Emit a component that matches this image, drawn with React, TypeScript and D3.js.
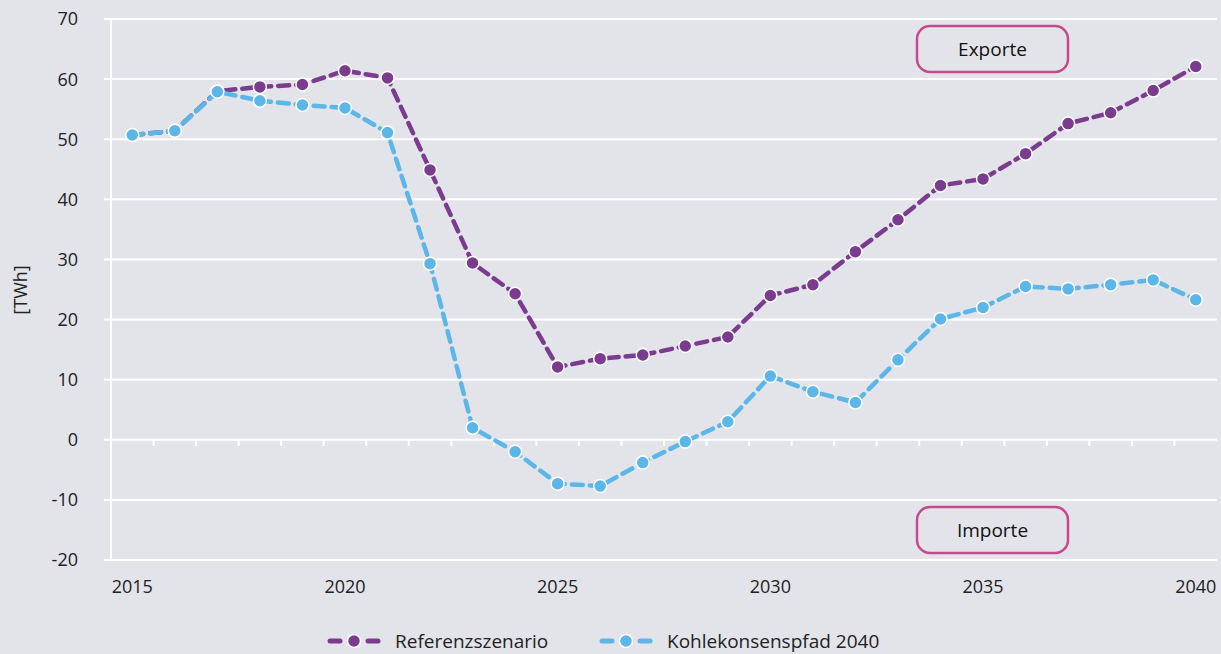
import React from "react";
import * as d3 from "d3";

const years = d3.range(2015, 2041);
const referenz = [50.7, 51.4, 58.0, 58.7, 59.1, 61.4, 60.2, 44.9, 29.4, 24.3, 12.1, 13.5, 14.1, 15.6, 17.1, 24.0, 25.8, 31.3, 36.6, 42.3, 43.4, 47.6, 52.6, 54.4, 58.1, 62.1];
const kohle = [50.7, 51.4, 57.9, 56.4, 55.7, 55.2, 51.1, 29.3, 2.0, -2.0, -7.3, -7.7, -3.8, -0.3, 3.0, 10.6, 8.0, 6.2, 13.3, 20.1, 22.0, 25.5, 25.1, 25.8, 26.6, 23.3];
const yTicks = [-20, -10, 0, 10, 20, 30, 40, 50, 60, 70];
const xLabels = [2015, 2020, 2025, 2030, 2035, 2040];
const seriesNames = ["Referenzszenario", "Kohlekonsenspfad 2040"];
const colors = ["#7b3c8f", "#5cb7e8"];

const W = 1221, H = 654;
const left = 111, right = 1217, top = 19, bottom = 560;
const font = "'Open Sans', 'DejaVu Sans', sans-serif";

export default function App() {
  const x = d3.scaleBand<number>().domain(years).range([left, right]);
  const y = d3.scaleLinear().domain([-20, 70]).range([bottom, top]);
  const cx = (yr: number) => (x(yr) as number) + x.bandwidth() / 2;
  const line = d3.line<number>().x((_, i) => cx(years[i])).y((v) => y(v));
  const series = [referenz, kohle];
  const boundaries = years.slice(1).map((yr) => x(yr) as number);

  return (
    <svg width={W} height={H} style={{ position: "absolute", left: 0, top: 0, background: "#e3e4e9" }}>
      <rect width={W} height={H} fill="#e3e4e9" />
      {yTicks.map((t) => (
        <g key={t}>
          <line x1={left - 7} x2={right} y1={y(t)} y2={y(t)} stroke="#fff" strokeWidth={2} />
          <text x={78} y={y(t)} dy="0.36em" textAnchor="end" fontFamily={font} fontSize={18} fill="#222">{t}</text>
        </g>
      ))}
      <line x1={left} x2={left} y1={top} y2={bottom} stroke="#fff" strokeWidth={2} />
      {boundaries.map((b, i) => (
        <line key={i} x1={b} x2={b} y1={y(0)} y2={y(0) + 6} stroke="#fff" strokeWidth={2} />
      ))}
      {xLabels.map((yr) => (
        <text key={yr} x={cx(yr)} y={593} textAnchor="middle" fontFamily={font} fontSize={18} fill="#222">{yr}</text>
      ))}
      <text transform={`translate(27,290) rotate(-90)`} textAnchor="middle" fontFamily={font} fontSize={18} fill="#222">[TWh]</text>

      {[{ label: "Exporte", yy: 26 }, { label: "Importe", yy: 507 }].map((b) => (
        <g key={b.label}>
          <rect x={917} y={b.yy} width={151} height={46} rx={13} fill="none" stroke="#c9478b" strokeWidth={2.5} />
          <text x={992.5} y={b.yy + 23} dy="0.36em" textAnchor="middle" fontFamily={font} fontSize={19} fill="#111">{b.label}</text>
        </g>
      ))}

      {series.map((s, si) => (
        <g key={si}>
          <path d={line(s) as string} fill="none" stroke={colors[si]} strokeWidth={4.5} strokeDasharray="11 7" strokeLinecap="round" />
          {s.map((v, i) => (
            <circle key={i} cx={cx(years[i])} cy={y(v)} r={6.5} fill={colors[si]} stroke="#fff" strokeWidth={1.5} />
          ))}
        </g>
      ))}

      {seriesNames.map((n, i) => {
        const lx = [328, 600][i];
        const ly = 641;
        return (
          <g key={n}>
            <line x1={lx + 2} x2={lx + 12} y1={ly} y2={ly} stroke={colors[i]} strokeWidth={5} strokeLinecap="round" />
            <line x1={lx + 40} x2={lx + 50} y1={ly} y2={ly} stroke={colors[i]} strokeWidth={5} strokeLinecap="round" />
            <circle cx={lx + 26} cy={ly} r={6.5} fill={colors[i]} stroke="#fff" strokeWidth={1.5} />
            <text x={lx + 67} y={ly} dy="0.36em" fontFamily={font} fontSize={19} fill="#222">{n}</text>
          </g>
        );
      })}
    </svg>
  );
}
